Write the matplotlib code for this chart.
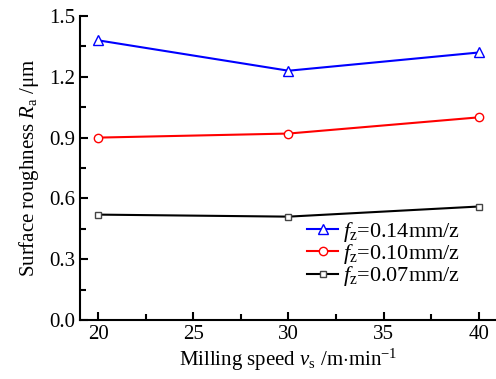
import matplotlib
matplotlib.use("Agg")
import matplotlib.pyplot as plt
from matplotlib.ticker import MultipleLocator

plt.rcParams['font.family'] = ['Liberation Serif', 'DejaVu Serif']
plt.rcParams['mathtext.fontset'] = 'custom'
plt.rcParams['mathtext.rm'] = 'Liberation Serif'
plt.rcParams['mathtext.it'] = 'Liberation Serif:italic'

speed = [20, 30, 40]
ra_014 = [1.38, 1.23, 1.32]
ra_010 = [0.90, 0.92, 1.00]
ra_007 = [0.52, 0.51, 0.56]
labels = [r'$f_{\mathrm{z}}$=0.14mm/z', r'$f_{\mathrm{z}}$=0.10mm/z', r'$f_{\mathrm{z}}$=0.07mm/z']

fig = plt.figure(figsize=(4.96, 3.79), dpi=100)
ax = fig.add_axes([80/496, 59/379, 416/496, 304/379])

ax.plot(speed, ra_014, color='blue', marker='^', mfc='white', mec='blue', ms=7, lw=1.5, label=labels[0])
ax.plot(speed, ra_010, color='red', marker='o', mfc='white', mec='red', ms=6, lw=1.5, label=labels[1])
ax.plot(speed, ra_007, color='black', marker='s', mfc='white', mec='#444444', ms=5, lw=1.5, label=labels[2])

ax.set_xlim(19.05, 40.9)
ax.set_ylim(0, 1.5)
ax.xaxis.set_major_locator(MultipleLocator(5))
ax.xaxis.set_minor_locator(MultipleLocator(2.5))
ax.yaxis.set_major_locator(MultipleLocator(0.3))
ax.yaxis.set_minor_locator(MultipleLocator(0.15))
ax.yaxis.set_major_formatter(matplotlib.ticker.FormatStrFormatter('%.1f'))
ax.spines['top'].set_visible(False)
ax.spines['right'].set_visible(False)
ax.spines['left'].set_linewidth(1.5)
ax.spines['bottom'].set_linewidth(1.5)
ax.tick_params(which='both', direction='in', width=1.5, labelsize=15)
ax.tick_params(which='major', length=6)
ax.tick_params(which='minor', length=4)

ax.set_xlabel(r'Milling speed $v_{\mathrm{s}}$ /m$\cdot$min$^{\mathrm{-1}}$', fontsize=15, labelpad=2)
ax.set_ylabel(r'Surface roughness $R_{\mathrm{a}}$ /μm', fontsize=15, labelpad=6)

ax.legend(loc='lower right', bbox_to_anchor=(0.934, 0.075), frameon=False, fontsize=16,
          handlelength=1.4, handletextpad=0.2, labelspacing=-0.08, borderaxespad=0)

fig.savefig('out.png', dpi=100)
